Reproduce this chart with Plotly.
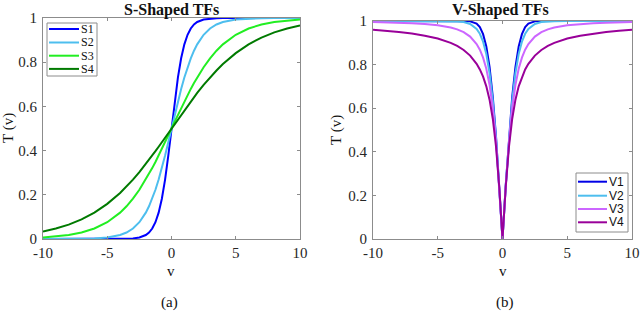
import plotly.graph_objects as go

# sample positions
v = [-10, -9, -8, -7, -6, -5, -4, -3.5, -3, -2.5, -2, -1.75, -1.5, -1.25, -1, -0.75, -0.5, -0.25,
     0, 0.25, 0.5, 0.75, 1, 1.25, 1.5, 1.75, 2, 2.5, 3, 3.5, 4, 5, 6, 7, 8, 9, 10]

# positive-side values (v = 0.25 ... 10)
s1_pos = [0.6225, 0.7311, 0.8176, 0.8808, 0.9241, 0.9526, 0.9707, 0.9820, 0.9933, 0.9975,
          0.9991, 0.99966, 0.99995, 0.999994, 1.0, 1.0, 1.0, 1.0]
s2_pos = [0.5622, 0.6225, 0.6792, 0.7311, 0.7773, 0.8176, 0.8520, 0.8808, 0.9241, 0.9526,
          0.9707, 0.9820, 0.9933, 0.9975, 0.9991, 0.99966, 0.99988, 0.99995]
s3_pos = [0.5312, 0.5622, 0.5927, 0.6225, 0.6514, 0.6792, 0.7058, 0.7311, 0.7773, 0.8176,
          0.8520, 0.8808, 0.9241, 0.9526, 0.9707, 0.9820, 0.9890, 0.9933]
s4_pos = [0.5208, 0.5416, 0.5622, 0.5826, 0.6027, 0.6225, 0.6418, 0.6608, 0.6971, 0.7311,
          0.7625, 0.7914, 0.8411, 0.8808, 0.9116, 0.9350, 0.9526, 0.9656]

v1_pos = [0.2459, 0.4692, 0.6525, 0.7899, 0.8828, 0.9397, 0.9718, 0.9878, 0.9983, 0.99975,
          0.99998, 1.0, 1.0, 1.0, 1.0, 1.0, 1.0, 1.0]
v2_pos = [0.2449, 0.4621, 0.6351, 0.7616, 0.8483, 0.9051, 0.9414, 0.9640, 0.9866, 0.9951,
          0.9982, 0.9993, 0.99991, 0.99999, 1.0, 1.0, 1.0, 1.0]
v3_pos = [0.2425, 0.4472, 0.6000, 0.7071, 0.7809, 0.8321, 0.8682, 0.8944, 0.9285, 0.9487,
          0.9615, 0.9701, 0.9806, 0.9864, 0.9899, 0.9923, 0.9939, 0.9950]
v4_pos = [0.2385, 0.4239, 0.5518, 0.6391, 0.7001, 0.7445, 0.7780, 0.8038, 0.8413, 0.8669,
          0.8855, 0.8996, 0.9194, 0.9327, 0.9423, 0.9494, 0.9550, 0.9595]

s_names = ["S1", "S2", "S3", "S4"]
v_names = ["V1", "V2", "V3", "V4"]
s_colors = ["#0000FF", "#4DBEEE", "#22EE22", "#007A00"]
v_colors = ["#0000E6", "#4DBEEE", "#CC66FF", "#990099"]

x_tickvals = [-10, -5, 0, 5, 10]
x_ticktext = ["-10", "-5", "0", "5", "10"]
y_tickvals = [0, 0.2, 0.4, 0.6, 0.8, 1]
y_ticktext = ["0", "0.2", "0.4", "0.6", "0.8", "1"]


def s_full(pos):
    return [round(1 - p, 6) for p in reversed(pos)] + [0.5] + pos


def v_full(pos):
    return list(reversed(pos)) + [0.0] + pos


W, H = 640, 311


def px(x):
    return x / W


def py(y):
    return 1 - y / H


fig = go.Figure()
for name, pos, col in zip(s_names, [s1_pos, s2_pos, s3_pos, s4_pos], s_colors):
    fig.add_trace(go.Scatter(x=v, y=s_full(pos), mode="lines", name=name,
                             line=dict(color=col, width=2), xaxis="x", yaxis="y",
                             showlegend=False))
for name, pos, col in zip(v_names, [v1_pos, v2_pos, v3_pos, v4_pos], v_colors):
    fig.add_trace(go.Scatter(x=v, y=v_full(pos), mode="lines", name=name,
                             line=dict(color=col, width=2), xaxis="x2", yaxis="y2",
                             showlegend=False))

serif = "Liberation Serif"
txtcol = "#262626"
tickfont = dict(family=serif, size=15, color=txtcol)
axcol = "#8c8c8c"
axis_common = dict(range=[-10, 10], showline=True, linecolor=axcol, linewidth=1,
                   mirror="allticks", ticks="inside", ticklen=3, tickcolor=axcol,
                   showgrid=False, zeroline=False, tickfont=tickfont, automargin=False,
                   tickvals=x_tickvals, ticktext=x_ticktext, ticklabelstandoff=0)
yaxis_common = dict(range=[0, 1], showline=True, linecolor=axcol, linewidth=1,
                    mirror="allticks", ticks="inside", ticklen=3, tickcolor=axcol,
                    showgrid=False, zeroline=False, tickfont=tickfont, automargin=False,
                    tickvals=y_tickvals, ticktext=y_ticktext, ticklabelstandoff=2)

shapes = []
annotations = []


def add_legend(names, colors, box, rows, x0, x1, font):
    bx0, by0, bx1, by1 = box
    shapes.append(dict(type="rect", xref="paper", yref="paper",
                       x0=px(bx0), x1=px(bx1), y0=py(by1), y1=py(by0),
                       line=dict(color=axcol, width=1), fillcolor="white", layer="above"))
    for name, col, ry in zip(names, colors, rows):
        shapes.append(dict(type="line", xref="paper", yref="paper",
                           x0=px(x0), x1=px(x1), y0=py(ry), y1=py(ry),
                           line=dict(color=col, width=2), layer="above"))
        annotations.append(dict(text=name, x=px(x1 + 1), y=py(ry), xref="paper", yref="paper",
                                xanchor="left", yanchor="middle", showarrow=False, font=font,
                                borderpad=0))


add_legend(s_names, s_colors, (47, 23, 97, 76), [29, 42.5, 55.7, 68.9], 49, 79,
           dict(family=serif, size=12, color="#111"))
add_legend(v_names, v_colors, (576, 173, 628, 232), [181.7, 195.7, 209, 222.3], 578, 607,
           dict(family="Liberation Sans", size=12, color="#111"))

for text, x, y, size in [("<b>S-Shaped TFs</b>", 171, 0, 16), ("<b>V-Shaped TFs</b>", 500, 0.5, 16)]:
    annotations.append(dict(text=text, x=px(x), y=py(y), xref="paper", yref="paper",
                            xanchor="center", yanchor="top", showarrow=False, borderpad=0,
                            font=dict(family=serif, size=size, color="#111")))
for text, x, y, size in [("(a)", 169, 302, 15), ("(b)", 505, 302, 15),
                         ("v", 171, 271, 15), ("v", 503, 271, 15)]:
    annotations.append(dict(text=text, x=px(x), y=py(y), xref="paper", yref="paper",
                            xanchor="center", yanchor="middle", showarrow=False,
                            font=dict(family=serif, size=size, color="#111")))
for x, y in [(8, 128), (336, 130)]:
    annotations.append(dict(text="T (v)", x=px(x), y=py(y), xref="paper", yref="paper",
                            xanchor="center", yanchor="middle", showarrow=False, textangle=-90,
                            font=dict(family=serif, size=15, color="#111")))

fig.update_layout(
    width=W, height=H,
    margin=dict(l=0, r=0, t=0, b=0),
    plot_bgcolor="white", paper_bgcolor="white",
    xaxis=dict(axis_common, domain=[px(43), px(300)], anchor="y"),
    yaxis=dict(yaxis_common, domain=[py(239), py(18)], anchor="x"),
    xaxis2=dict(axis_common, domain=[px(373), px(632)], anchor="y2"),
    yaxis2=dict(yaxis_common, domain=[py(239), py(21)], anchor="x2"),
    showlegend=False,
    shapes=shapes,
    annotations=annotations,
)

fig.write_html("out.html", config={"displayModeBar": False},
               post_script="document.body.style.margin='0';document.body.style.overflow='hidden';")
